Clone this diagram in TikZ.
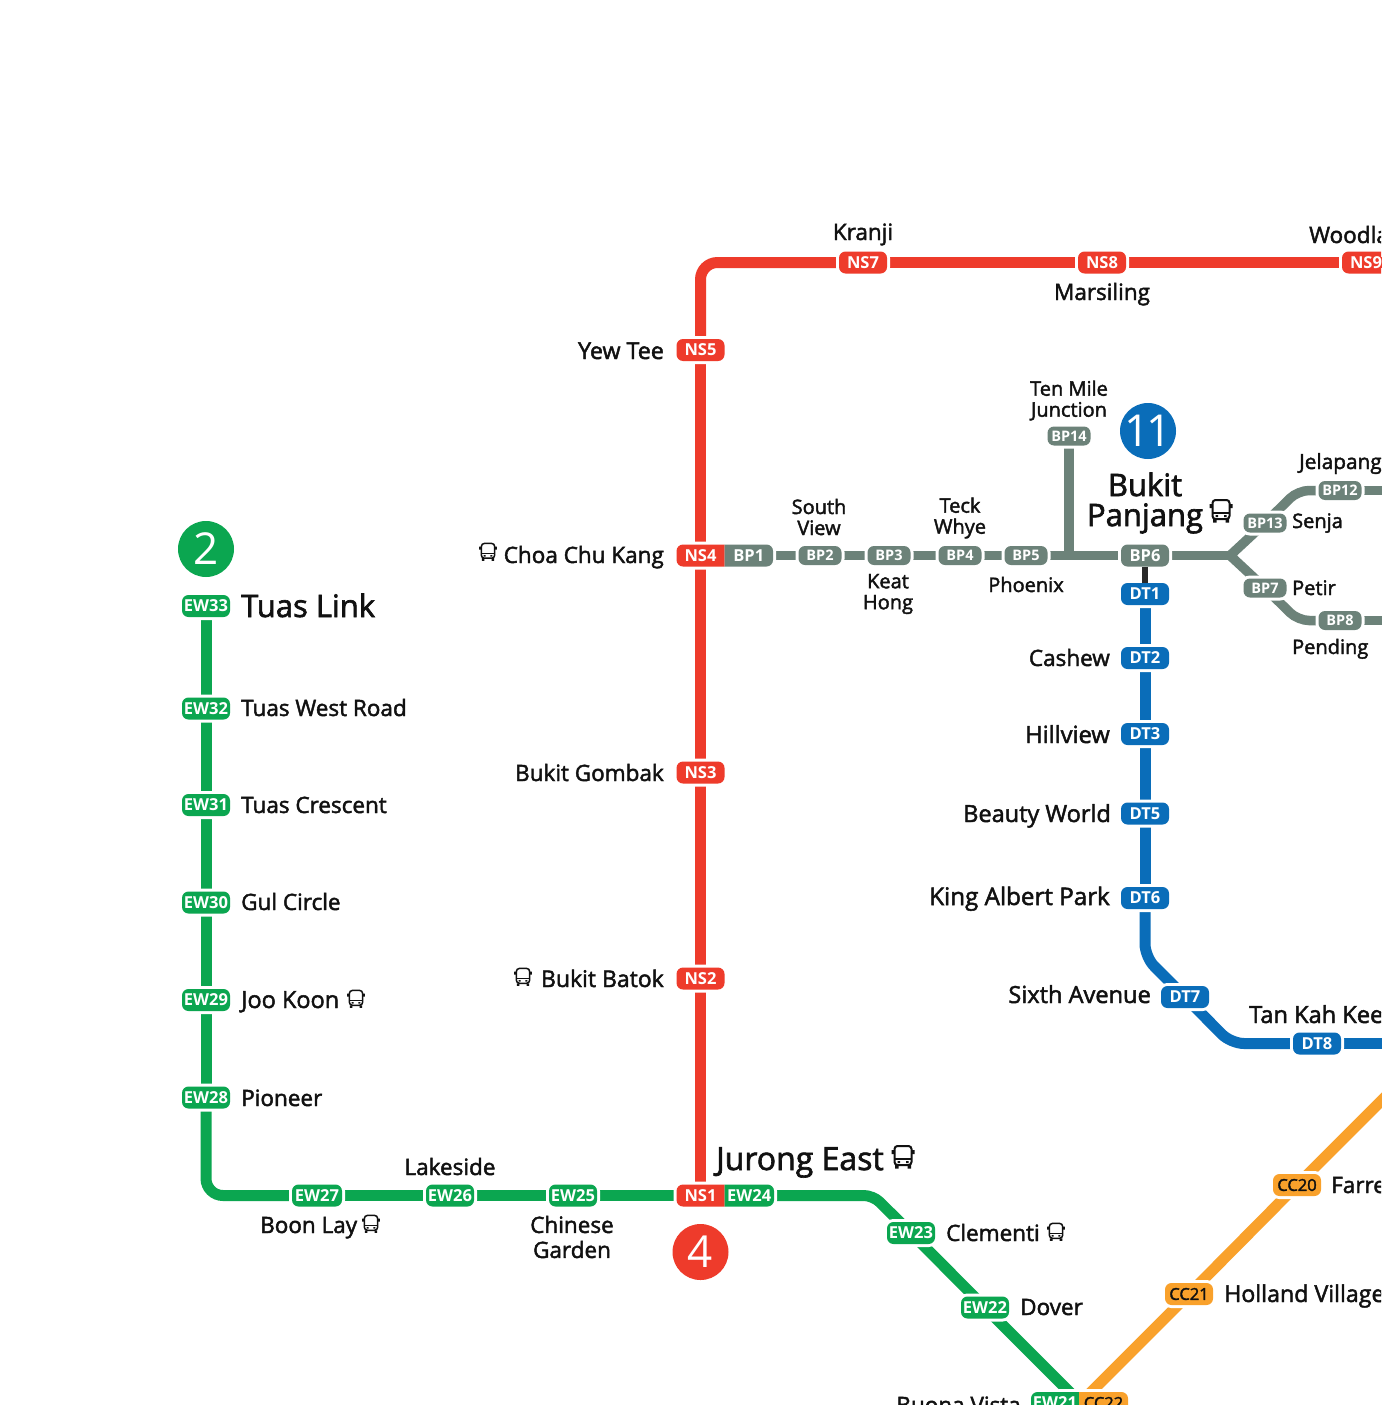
\documentclass[tikz,border=0pt]{standalone}
\usetikzlibrary{backgrounds}
\usepackage{fontspec}
\setmainfont{Open Sans}
\newfontfamily\lblfont{Open Sans}[FakeBold=2]
\definecolor{nsred}{HTML}{EE3B2B}
\definecolor{ewgreen}{HTML}{0BA650}
\definecolor{bpgrey}{HTML}{6C8279}
\definecolor{dtblue}{HTML}{0A6DB9}
\definecolor{ccorange}{HTML}{F9A12B}
\definecolor{inkblack}{HTML}{111111}
\tikzset{
  x=1pt,y=-1pt,
  railline/.style={line width=11pt,line cap=butt},
  nsline/.style={railline,draw=nsred},
  ewline/.style={railline,draw=ewgreen},
  bpline/.style={railline,line width=9.5pt,draw=bpgrey},
  dtline/.style={railline,draw=dtblue},
  ccline/.style={railline,draw=ccorange},
  badgebase/.style={minimum width=48pt,minimum height=22pt,inner sep=0pt,outer sep=0pt,font=\fontsize{16.5}{17}\selectfont\bfseries},
  badge/.style={badgebase,rounded corners=6.5pt,fill=#1,text=white,preaction={draw=white,line width=6pt}},
  ccbadge/.style={badge=ccorange,text=inkblack,font=\fontsize{16.5}{17}\lblfont\selectfont},
  minibadge/.style={badge=bpgrey,minimum width=43pt,minimum height=19pt,font=\fontsize{14.5}{15}\selectfont\bfseries},
  halftext/.style={badgebase,text=white},
  lbl/.style={text=inkblack,inner sep=0pt,font=\fontsize{22.5}{24}\lblfont\selectfont},
  lblsmall/.style={text=inkblack,inner sep=0pt,align=center,font=\fontsize{20}{21}\lblfont\selectfont},
  lblbig/.style={text=inkblack,inner sep=0pt,align=center,font=\fontsize{31}{30}\lblfont\selectfont},
  linecircle/.style={circle,minimum size=56pt,inner sep=0pt,text=white,font=\fontsize{44}{44}\selectfont},
  pics/busicon/.style={code={
    \draw[inkblack,line width=#1,rounded corners=3pt] (-8.5,-11) rectangle (8.5,8);
    \draw[inkblack,line width=#1] (-8.5,2) -- (8.5,2);
    \fill[inkblack] (-5.5,4) rectangle (-3,6) (3,4) rectangle (5.5,6);
    \fill[inkblack] (-8,8) rectangle (-4.5,11.5) (4.5,8) rectangle (8,11.5);
    \fill[inkblack] (-11.5,-7) rectangle (-8.5,-3) (8.5,-7) rectangle (11.5,-3);
  }}
}
% twin interchange badge: left x, joint x, right x, y, colours, texts, names
\newcommand{\twinbadge}[9]{%
  \draw[white,line width=6pt,rounded corners=6.5pt] (#1,#4-11) rectangle (#3,#4+11);
  \begin{scope}
    \clip (#1-1,#4-12) rectangle (#2,#4+12);
    \fill[#5,rounded corners=6.5pt] (#1,#4-11) rectangle (#3,#4+11);
  \end{scope}
  \begin{scope}
    \clip (#2,#4-12) rectangle (#3+1,#4+12);
    \fill[#6,rounded corners=6.5pt] (#1,#4-11) rectangle (#3,#4+11);
  \end{scope}
  \node[halftext] (#9a) at ({(#1+#2)/2},#4) {#7};
  \node[halftext] (#9b) at ({(#2+#3)/2},#4) {#8};
}
\begin{document}
\begin{tikzpicture}
\path[use as bounding box,clip] (0,0) rectangle (1381,1405);

% free ends and bends
\coordinate (nsend) at (1400,262.5);
\coordinate (ewbend) at (873,1195.5);
\coordinate (ewfoot) at (1078,1400.5);
\coordinate (ccfoot) at (1083,1400);
\coordinate (dtbendA) at (1145,957);
\coordinate (dtbendB) at (1231,1043.5);
\coordinate (dtend) at (1400,1043.5);
\coordinate (ccend) at (1400,1082);
\coordinate (bptee) at (1069,555.5);
\coordinate (bpfork) at (1230,555.5);
\coordinate (bpup) at (1298,490.5);
\coordinate (bpdown) at (1298,620.5);
\coordinate (bpupend) at (1400,490.5);
\coordinate (bpdownend) at (1400,620.5);

% North South line
\node[badge=nsred] (ns7) at (863,262.5) {NS7};
\node[badge=nsred] (ns8) at (1102,262.5) {NS8};
\node[badge=nsred] (ns9) at (1366,262.5) {NS9};
\node[badge=nsred] (ns5) at (700.5,350) {NS5};
\twinbadge{676.5}{724.5}{773}{555.5}{nsred}{bpgrey}{NS4}{BP1}{nsbp}
\node[badge=nsred] (ns3) at (700.5,772.5) {NS3};
\node[badge=nsred] (ns2) at (700.5,978.5) {NS2};
\twinbadge{676.5}{724.5}{774}{1195.5}{nsred}{ewgreen}{NS1}{EW24}{nsew}
\twinbadge{1031}{1079}{1128}{1403}{ewgreen}{ccorange}{EW21}{\textcolor{inkblack}{\lblfont\mdseries CC22}}{ewcc}

% East West line
\node[badge=ewgreen] (ew33) at (206,606) {EW33};
\node[badge=ewgreen] (ew32) at (206,708.5) {EW32};
\node[badge=ewgreen] (ew31) at (206,805) {EW31};
\node[badge=ewgreen] (ew30) at (206,902.5) {EW30};
\node[badge=ewgreen] (ew29) at (206,1000) {EW29};
\node[badge=ewgreen] (ew28) at (206,1097.5) {EW28};
\node[badge=ewgreen,minimum width=50pt] (ew27) at (317,1195.5) {EW27};
\node[badge=ewgreen] (ew26) at (450,1195.5) {EW26};
\node[badge=ewgreen] (ew25) at (573,1195.5) {EW25};
\node[badge=ewgreen] (ew23) at (911,1233) {EW23};
\node[badge=ewgreen] (ew22) at (985,1307.5) {EW22};

% Bukit Panjang LRT
\node[minibadge] (bp2) at (820,555.5) {BP2};
\node[minibadge] (bp3) at (889,555.5) {BP3};
\node[minibadge] (bp4) at (960,555.5) {BP4};
\node[minibadge] (bp5) at (1026,555.5) {BP5};
\node[badge=bpgrey] (bp6) at (1145,555.5) {BP6};
\node[minibadge] (bp14) at (1069,436) {BP14};
\node[minibadge] (bp13) at (1265,523) {BP13};
\node[minibadge] (bp12) at (1340,490.5) {BP12};
\node[minibadge] (bp7) at (1265,588) {BP7};
\node[minibadge] (bp8) at (1340,620.5) {BP8};

% Downtown line
\node[badge=dtblue] (dt1) at (1145,594) {DT1};
\node[badge=dtblue] (dt2) at (1145,658) {DT2};
\node[badge=dtblue] (dt3) at (1145,734) {DT3};
\node[badge=dtblue] (dt5) at (1145,813.5) {DT5};
\node[badge=dtblue] (dt6) at (1145,898) {DT6};
\node[badge=dtblue] (dt7) at (1185,997) {DT7};
\node[badge=dtblue] (dt8) at (1317,1043.5) {DT8};

% Circle line
\node[ccbadge] (cc21) at (1189,1294) {CC21};
\node[ccbadge] (cc20) at (1297,1185) {CC20};

% connectors, under the badges and their white halos
\begin{scope}[on background layer]
\fill[white] (0,0) rectangle (1381,1405);
\draw[nsline] (nsbpa.center) -- (ns5.center);
\draw[nsline] (nsbpa.center) -- (ns3.center);
\draw[nsline] (ns3.center) -- (ns2.center);
\draw[nsline] (ns2.center) -- (nsewa.center);
\draw[nsline,rounded corners=17pt] (ns5.center) |- (ns7.center);
\draw[nsline] (ns7.center) -- (ns8.center);
\draw[nsline] (ns8.center) -- (ns9.center);
\draw[nsline] (ns9.center) -- (nsend);

\draw[ewline] (ew33.center) -- (ew32.center);
\draw[ewline] (ew32.center) -- (ew31.center);
\draw[ewline] (ew31.center) -- (ew30.center);
\draw[ewline] (ew30.center) -- (ew29.center);
\draw[ewline] (ew29.center) -- (ew28.center);
\draw[ewline,rounded corners=17pt] (ew28.center) |- (ew27.center);
\draw[ewline] (ew27.center) -- (ew26.center);
\draw[ewline] (ew26.center) -- (ew25.center);
\draw[ewline] (ew25.center) -- (nsewa.center);
\draw[ewline,rounded corners=9pt] (nsewb.center) -- (ewbend) -- (ew23.center);
\draw[ewline] (ew23.center) -- (ew22.center);
\draw[ewline] (ew22.center) -- (ewfoot);

\draw[bpline] (nsbpb.center) -- (bp2.center);
\draw[bpline] (bp2.center) -- (bp3.center);
\draw[bpline] (bp3.center) -- (bp4.center);
\draw[bpline] (bp4.center) -- (bp5.center);
\draw[bpline] (bp5.center) -- (bptee) -- (bp6.center);
\draw[bpline] (bp14.center) -- (bptee);
\draw[bpline] (bp6.center) -- (bpfork);
\draw[bpline,line join=round] (bp13.center) -- (bpfork) -- (bp7.center);
\draw[bpline,rounded corners=11pt] (bp13.center) -- (bpup) -- (bp12.center);
\draw[bpline,rounded corners=11pt] (bp7.center) -- (bpdown) -- (bp8.center);
\draw[bpline] (bp12.center) -- (bpupend);
\draw[bpline] (bp8.center) -- (bpdownend);

\draw[dtline] (dt1.center) -- (dt2.center);
\draw[dtline] (dt2.center) -- (dt3.center);
\draw[dtline] (dt3.center) -- (dt5.center);
\draw[dtline] (dt5.center) -- (dt6.center);
\draw[dtline,rounded corners=13pt] (dt6.center) -- (dtbendA) -- (dt7.center);
\draw[dtline,rounded corners=13pt] (dt7.center) -- (dtbendB) -- (dt8.center);
\draw[dtline] (dt8.center) -- (dtend);

\draw[ccline] (ccend) -- (cc20.center);
\draw[ccline] (cc20.center) -- (cc21.center);
\draw[ccline] (cc21.center) -- (ccfoot);
\end{scope}
\draw[line width=6.5pt,draw=inkblack!90] (bp6) -- (dt1);

% line number circles
\node[linecircle,fill=ewgreen] (two) at (206,549) {\makebox[0pt]{2}};
\node[linecircle,fill=nsred] (four) at (700.5,1252) {\makebox[0pt]{4}};
\node[linecircle,fill=dtblue] (eleven) at (1148,431) {\makebox[0pt]{1\kern-4pt 1}};

% labels
\node[lbl,anchor=base] (kranji) at (863,240) {Kranji};
\node[lbl,anchor=base west] (woodlands) at (1309,243) {Woodlands};
\node[lbl,anchor=base] (marsiling) at (1102,300) {Marsiling};
\node[lbl,anchor=base east,font=\fontsize{23.2}{24}\lblfont\selectfont] (yewtee) at (664,359) {Yew Tee};
\node[lbl,anchor=base east] (choa) at (664,563) {Choa Chu Kang};
\node[lbl,anchor=base east] (gombak) at (664,781) {Bukit Gombak};
\node[lbl,anchor=base east,font=\fontsize{23}{24}\lblfont\selectfont] (batok) at (664,987) {Bukit Batok};
\node[lblsmall] (tenmile) at (1069,400.5) {Ten Mile\\Junction};
\node[lblbig] (panjang) at (1145,503) {Bukit\\Panjang};
\node[lblsmall,anchor=base west,font=\fontsize{20.8}{21}\lblfont\selectfont] (jelapang) at (1299,469) {Jelapang};
\node[lblsmall,anchor=base west] (senja) at (1292,528) {Senja};
\node[lblsmall,anchor=base west] (petir) at (1292,595) {Petir};
\node[lblsmall,anchor=base west] (pending) at (1292,654) {Pending};
\node[lblsmall] (southview) at (819,517) {South\\View};
\node[lblsmall] (teckwhye) at (960,518) {Teck\\Whye};
\node[lblsmall] (keathong) at (888,594) {Keat\\Hong};
\node[lblsmall,anchor=base] (phoenix) at (1026,592) {Phoenix};
\node[lbl,anchor=base east] (cashew) at (1110,666) {Cashew};
\node[lbl,anchor=base east,font=\fontsize{23.7}{24}\lblfont\selectfont] (hillview) at (1110,743) {Hillview};
\node[lbl,anchor=base east,font=\fontsize{23.5}{24}\lblfont\selectfont] (beauty) at (1111,822) {Beauty World};
\node[lbl,anchor=base east,font=\fontsize{24.2}{24}\lblfont\selectfont] (kingalbert) at (1110,905) {King Albert Park};
\node[lbl,anchor=base east,font=\fontsize{23.6}{24}\lblfont\selectfont] (sixth) at (1151,1003) {Sixth Avenue};
\node[lbl,anchor=base west,font=\fontsize{23.6}{24}\lblfont\selectfont] (tankah) at (1249,1023) {Tan Kah Kee};
\node[lbl,anchor=base west] (farrer) at (1331,1193) {Farrer Road};
\node[lbl,anchor=base west,font=\fontsize{23.2}{24}\lblfont\selectfont] (holland) at (1224,1302) {Holland Village};
\node[lbl,anchor=base west] (dover) at (1020,1315) {Dover};
\node[lbl,anchor=base west] (clementi) at (946,1241) {Clementi};
\node[lbl,anchor=base east] (buona) at (1021,1413) {Buona Vista};
\node[lblbig,anchor=base west,font=\fontsize{32}{30}\lblfont\selectfont] (jurong) at (716,1170) {Jurong East};
\node[lbl,anchor=base] (lakeside) at (450,1175) {Lakeside};
\node[lbl,align=center,font=\fontsize{22.5}{25}\lblfont\selectfont] (chinese) at (572,1237) {Chinese\\Garden};
\node[lbl,anchor=base west] (boonlay) at (260,1233) {Boon Lay};
\node[lbl,anchor=base west] (pioneer) at (241,1106) {Pioneer};
\node[lbl,anchor=base west,font=\fontsize{23.5}{24}\lblfont\selectfont] (jookoon) at (241,1008) {Joo Koon};
\node[lbl,anchor=base west] (gul) at (241,910) {Gul Circle};
\node[lbl,anchor=base west] (crescent) at (241,813) {Tuas Crescent};
\node[lbl,anchor=base west] (westroad) at (241,716) {Tuas West Road};
\node[lblbig,anchor=base west] (tuaslink) at (241,617) {Tuas Link};

% bus interchange icons
\pic[scale=.78] at (488,552) {busicon=1.5pt};
\pic[scale=.78] at (371,1224) {busicon=1.5pt};
\pic[scale=.78] at (356,999) {busicon=1.5pt};
\pic[scale=.78] at (523,977) {busicon=1.5pt};
\pic[scale=.78] at (1056,1232) {busicon=1.5pt};
\pic at (903,1157) {busicon=2pt};
\pic at (1221,511) {busicon=2pt};
\end{tikzpicture}
\end{document}
